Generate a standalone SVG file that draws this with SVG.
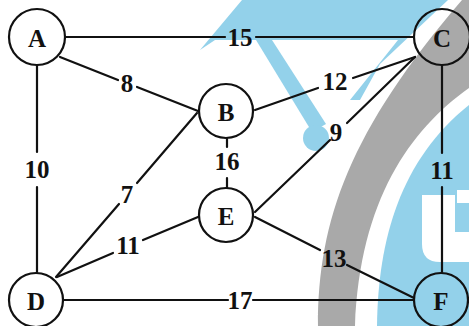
<svg xmlns="http://www.w3.org/2000/svg" width="469" height="326" viewBox="0 0 469 326">
<style>
.wm-b{fill:#93d1ea}
.wm-g{fill:#a9a9a9}
.wm-w{fill:#ffffff}
.edge{stroke:#111;stroke-width:2.2;fill:none;stroke-linecap:round}
.node circle{fill:none;stroke:#111;stroke-width:2.2}
text{font-family:"Liberation Serif","Times New Roman",serif;font-weight:bold;fill:#111;text-anchor:middle;dominant-baseline:central}
.nl{font-size:25px}
.el{font-size:25px}
</style>
<rect width="469" height="326" fill="#ffffff"/>
<g id="watermark">
<polygon class="wm-b" points="200,50 242,0 448,0 380,64 360,100 350,100 398,40 215,40"/>
<polygon class="wm-b" points="256,40 272,40 326,124 312,132"/>
<circle class="wm-b" cx="316" cy="138" r="13"/>
<path class="wm-g" d="M318 326 C318 220 350 130 462 0 L469 0 L469 88 C410 130 360 200 355 326 Z"/>
<path class="wm-b" d="M377 326 C378 240 400 160 469 105 L469 326 Z"/>
<path class="wm-w" d="M422 195 L455 195 L455 232 L469 232 L469 262 L440 262 Q422 262 422 244 Z"/>
<rect class="wm-w" x="457" y="190" width="12" height="13"/>
</g>
<g id="connectors">
<path class="edge" d="M65 37 H225 M256 37 H414"/>
<path class="edge" d="M60 57 L118 80 M137 87 L198 111"/>
<path class="edge" d="M37 65 V152 M37 187 V272"/>
<path class="edge" d="M197 113 L137 183 M119 204 L56 277"/>
<path class="edge" d="M227 139 V147 M227 178 V188"/>
<path class="edge" d="M198 217 L143 240 M113 253 L57 277"/>
<path class="edge" d="M255 110 L318 88 M353 78 L415 57"/>
<path class="edge" d="M415 57 L347 123 M330 140 L255 212"/>
<path class="edge" d="M442 65 V153 M442 187 V272"/>
<path class="edge" d="M255 217 L320 250 M347 265 L414 298"/>
<path class="edge" d="M63 300 H228 M253 300 H414"/>
<text class="el" x="240" y="37">15</text>
<text class="el" x="127" y="83">8</text>
<text class="el" x="37" y="169">10</text>
<text class="el" x="127" y="194">7</text>
<text class="el" x="227" y="161">16</text>
<text class="el" x="128" y="245">11</text>
<text class="el" x="335" y="81">12</text>
<text class="el" x="336" y="132">9</text>
<text class="el" x="442" y="170">11</text>
<text class="el" x="334" y="258">13</text>
<text class="el" x="240" y="300">17</text>
</g>
<g id="node-A" class="node"><circle cx="37" cy="37" r="28"/><text class="nl" x="37" y="38">A</text></g>
<g id="node-B" class="node"><circle cx="226" cy="111" r="27"/><text class="nl" x="226" y="112">B</text></g>
<g id="node-C" class="node"><circle cx="442" cy="37" r="28"/><text class="nl" x="442" y="38">C</text></g>
<g id="node-D" class="node"><circle cx="36" cy="300" r="27"/><text class="nl" x="36" y="301">D</text></g>
<g id="node-E" class="node"><circle cx="226" cy="215" r="27"/><text class="nl" x="226" y="216">E</text></g>
<g id="node-F" class="node"><circle cx="441" cy="300" r="27"/><text class="nl" x="441" y="301">F</text></g>
</svg>
